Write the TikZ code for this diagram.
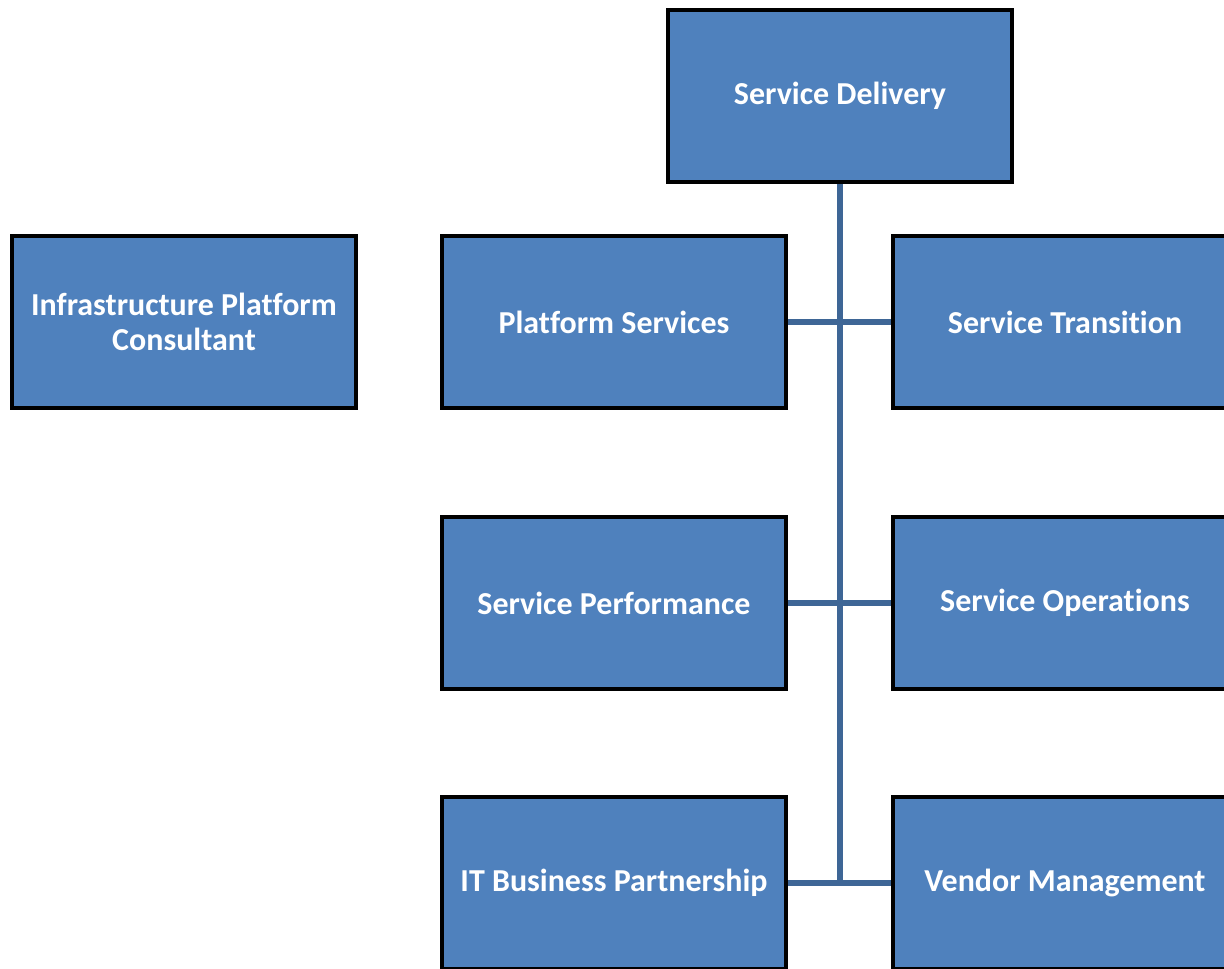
\documentclass[tikz,border=0pt]{standalone}
\usepackage{fontspec}
\setmainfont{Carlito}[Ligatures=NoCommon]
\definecolor{boxblue}{HTML}{4F81BD}
\definecolor{linkblue}{HTML}{3E6696}
\begin{document}
\begin{tikzpicture}[x=0.02cm, y=-0.02cm,
  unit/.style={draw=black, line width=2.3pt, fill=boxblue, minimum width=6.88cm,
    minimum height=3.44cm, text=white, font=\bfseries\fontsize{18.2}{20}\selectfont,
    align=center, inner sep=0pt},
  link/.style={draw=linkblue, line width=3.2pt}]
  \useasboundingbox (0,0) rectangle (1224,969);
  \clip (0,0) rectangle (1224,969);
  \node[unit] (delivery) at (840,96) {Service Delivery};
  \node[unit] (consultant) at (184,322) {Infrastructure Platform\\Consultant};
  \node[unit] (platform) at (614,322) {Platform Services};
  \node[unit] (transition) at (1065,322) {Service Transition};
  \node[unit] (performance) at (614,603) {Service Performance};
  \node[unit] (operations) at (1065,603) {Service Operations};
  \node[unit] (partnership) at (614,883) {IT Business Partnership};
  \node[unit] (vendor) at (1065,883) {Vendor Management};
  \coordinate (spine) at (840,883);
  % links
  \draw[link] (delivery.south) -- (spine);
  \foreach \l/\r in {platform/transition, performance/operations, partnership/vendor}
    \draw[link] (\l.east) -- (\r.west);
\end{tikzpicture}
\end{document}
